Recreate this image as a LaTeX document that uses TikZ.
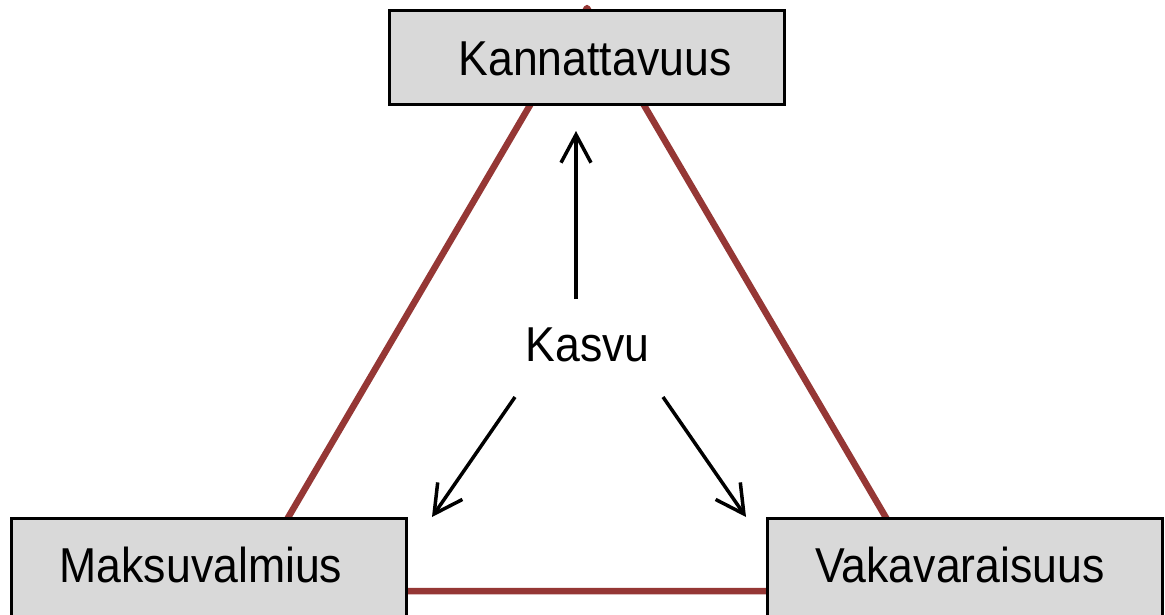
\documentclass[tikz,border=0pt]{standalone}
\usepackage{fontspec}
\usepackage{graphicx}
\setmainfont{Liberation Sans}
\usetikzlibrary{arrows.meta}
\definecolor{tri}{RGB}{149,55,53}
\definecolor{boxfill}{RGB}{217,217,217}
\newcommand{\lbltext}[1]{\scalebox{0.91}[1]{\fontsize{49}{58}\selectfont #1}}
\begin{document}
\begin{tikzpicture}[x=1pt,y=-1pt,
  box/.style={draw=black, line width=3pt, fill=boxfill, minimum width=395pt, inner sep=0pt},
  lbl/.style={anchor=base, inner sep=0pt, text=black},
  tripath/.style={draw=tri, line width=6.5pt, line join=round},
  growarrow/.style={draw=black, line width=3.5pt, -{Straight Barb[length=28pt, width=30pt]}}]
\useasboundingbox (0,0) rectangle (1165,614);
% triangle vertices
\coordinate (apex) at (587,8);
\coordinate (bl) at (245,591);
\coordinate (br) at (929,591);
\path[tripath] (apex) -- (bl) -- (br) -- cycle;
% boxes
\node[box, minimum height=94pt] (top) at (587,57.5) {};
\node[box, minimum height=100pt] (left) at (209,568.5) {};
\node[box, minimum height=100pt] (right) at (965,568.5) {};
% labels
\node[lbl] (ttop) at (595,75) {\lbltext{Kannattavuus}};
\node[lbl] (tleft) at (201,582) {\lbltext{Maksuvalmius}};
\node[lbl] (tright) at (960,582) {\lbltext{Vakavaraisuus}};
\node[lbl] (kasvu) at (587.5,361) {\lbltext{Kasvu}};
% arrow ends
\coordinate (upS) at (576,299);
\coordinate (upE) at (576,131);
\coordinate (lS) at (515,397);
\coordinate (lE) at (432,517);
\coordinate (rS) at (663,397);
\coordinate (rE) at (746,517);
\path[growarrow] (upS) -- (upE);
\path[growarrow] (lS) -- (lE);
\path[growarrow] (rS) -- (rE);
\end{tikzpicture}
\end{document}
